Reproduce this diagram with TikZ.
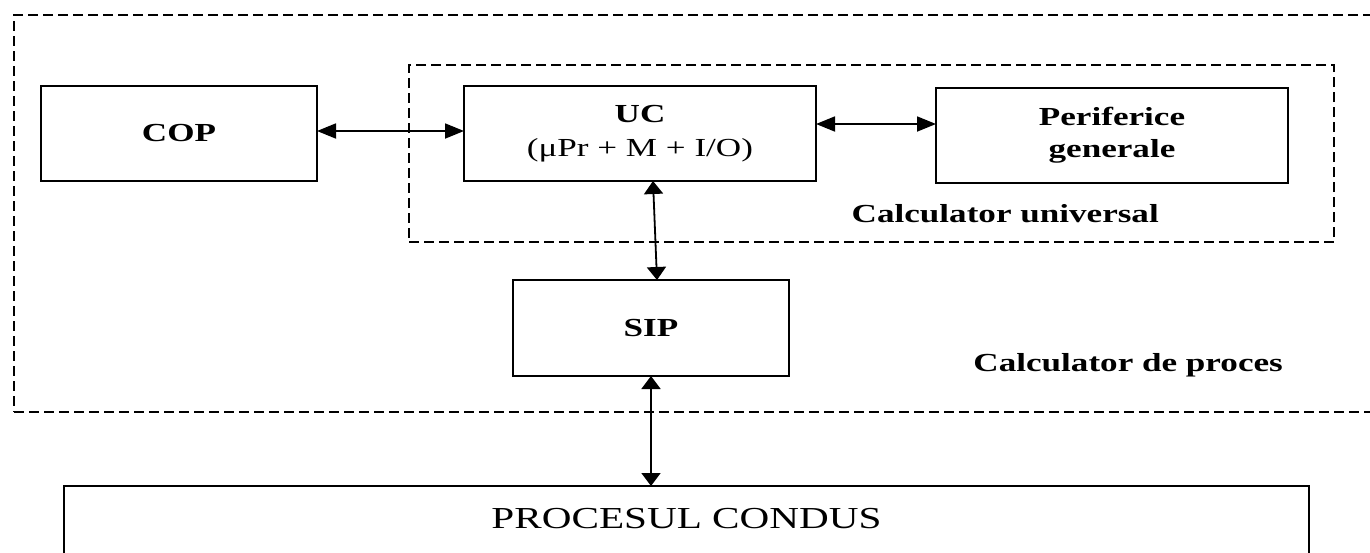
\documentclass[tikz,border=0pt]{standalone}
\usepackage{fontspec}
\setmainfont{Liberation Serif}[FakeStretch=1.35]
\usetikzlibrary{arrows.meta}
\begin{document}
\begin{tikzpicture}[x=1pt,y=-1pt,
  box/.style={draw=black, line width=2pt, inner sep=0pt, outer sep=0pt, align=center,
    font=\fontsize{26}{34}\selectfont},
  dbox/.style={draw=black, line width=1.8pt, dash pattern=on 10pt off 5pt, inner sep=0pt, outer sep=0pt},
  lbl/.style={font=\fontsize{26}{34}\selectfont\bfseries, inner sep=0pt},
  harrow/.style={line width=1.8pt, {Triangle[length=19pt,width=15pt]}-{Triangle[length=19pt,width=15pt]}},
  varrow/.style={line width=1.8pt, {Triangle[length=13pt,width=19pt]}-{Triangle[length=13pt,width=19pt]}},
]
\useasboundingbox (0,0) rectangle (1370,552);
% containers
\node[dbox, minimum width=1366pt, minimum height=397pt] (outer) at (697,213.5) {};
\node[dbox, minimum width=925pt, minimum height=177pt] (inner) at (871.5,153.5) {};
% blocks
\node[box, minimum width=276pt, minimum height=95pt] (cop) at (179,133.5) {\bfseries COP};
\node[box, minimum width=352pt, minimum height=95pt] (uc) at (640,133.5) {\bfseries UC\\(μPr + M + I/O)};
\node[box, minimum width=352pt, minimum height=95pt] (per) at (1112,135.5) {\bfseries Periferice\\[-2pt]\bfseries generale};
\node[box, minimum width=276pt, minimum height=96pt] (sip) at (651,328) {\bfseries SIP};
\node[box, minimum width=1245pt, minimum height=114pt] (proc) at (686.5,543) {};
\node[inner sep=0pt, anchor=base, font=\fontsize{30.5}{34}\selectfont] (proctext) at (686.5,528) {PROCESUL CONDUS};
% labels
\node[lbl, anchor=base east] (cu) at (1159,222) {Calculator universal};
\node[lbl, anchor=base east] (cp) at (1283,371) {Calculator de proces};
% connectors
\draw[harrow] ([yshift=2.5pt]cop.east) -- ([yshift=2.5pt]uc.west);
\draw[harrow] ([yshift=9.5pt]uc.east) -- ([yshift=11.5pt]per.west);
\draw[varrow] ([xshift=13pt]uc.south) -- ([xshift=6pt]sip.north);
\draw[varrow] (sip.south) -- (sip.south |- proc.north);
\end{tikzpicture}
\end{document}
